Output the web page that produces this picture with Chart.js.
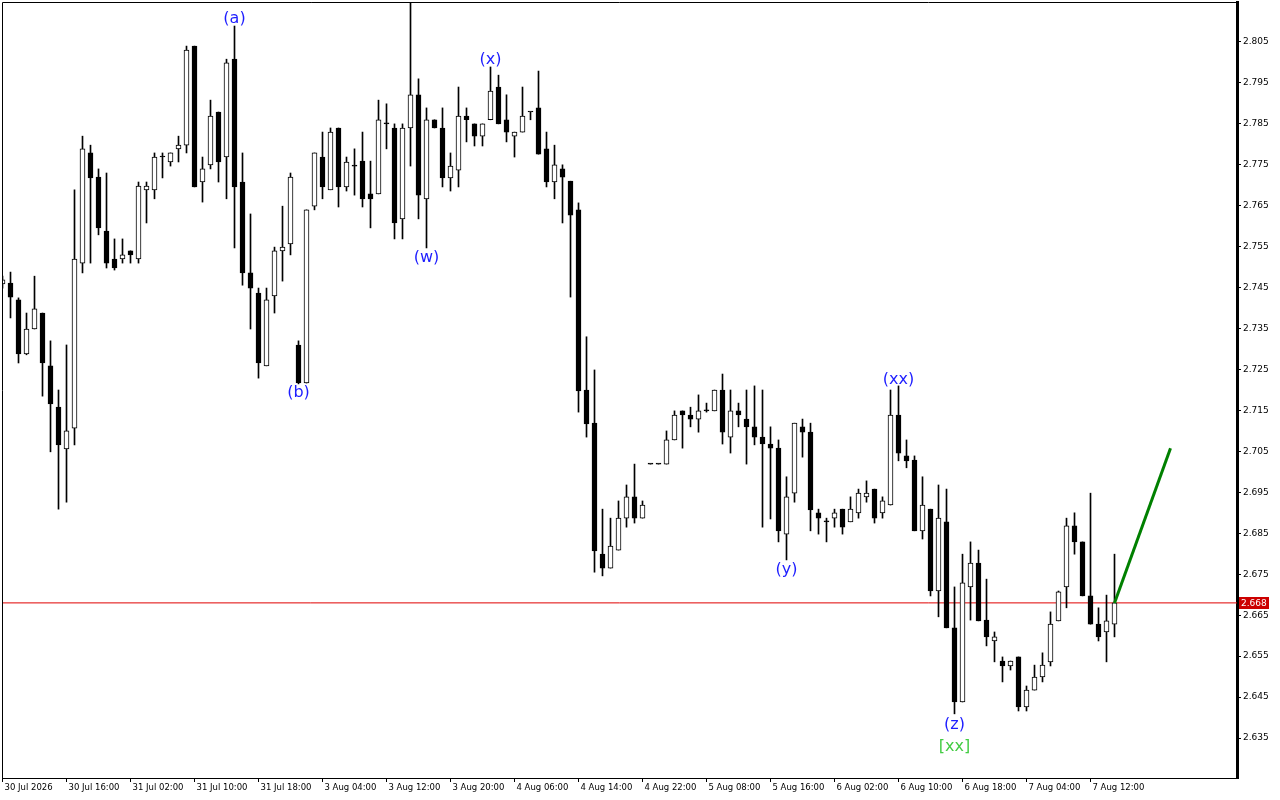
<!DOCTYPE html>
<html><head><meta charset="utf-8">
<script src="https://cdn.jsdelivr.net/npm/chart.js@4.4.1/dist/chart.umd.min.js"></script>
<style>html,body{margin:0;padding:0;background:#fff;}canvas{display:block;}</style>
</head><body>
<canvas id="c" width="1280" height="800" style="width:1280px;height:800px"></canvas>
<script>
// ---- data (hourly candles, index 0..139) ----
const timeTickIndex = [0,8,16,24,32,40,48,56,64,72,80,88,96,104,112,120,128,136];
const timeTickLabels = ["30 Jul 2026","30 Jul 16:00","31 Jul 02:00","31 Jul 10:00","31 Jul 18:00","3 Aug 04:00","3 Aug 12:00","3 Aug 20:00","4 Aug 06:00","4 Aug 14:00","4 Aug 22:00","5 Aug 08:00","5 Aug 16:00","6 Aug 02:00","6 Aug 10:00","6 Aug 18:00","7 Aug 04:00","7 Aug 12:00"];
const priceTicks = [2.635,2.645,2.655,2.665,2.675,2.685,2.695,2.705,2.715,2.725,2.735,2.745,2.755,2.765,2.775,2.785,2.795,2.805];

const open = [2.7459,2.7461,2.7420,2.7288,2.7349,2.7388,2.7259,2.7158,2.7056,2.7107,
2.7510,2.7779,2.7720,2.7588,2.7520,2.7520,2.7540,2.7520,2.7689,2.7689,
2.7769,2.7757,2.7789,2.7798,2.8040,2.7708,2.7750,2.7879,2.7769,2.8008,
2.7708,2.7486,2.7437,2.7259,2.7430,2.7540,2.7557,2.7310,2.7217,2.7649,
2.7769,2.7689,2.7840,2.7696,2.7747,2.7759,2.7679,2.7679,2.7850,2.7840,
2.7618,2.7840,2.7921,2.7667,2.7860,2.7840,2.7718,2.7737,2.7869,2.7850,
2.7820,2.7860,2.7940,2.7860,2.7820,2.7830,2.7879,2.7889,2.7789,2.7708,
2.7740,2.7710,2.7640,2.7200,2.7119,2.6799,2.6765,2.6809,2.6887,2.6939,
2.6887,2.7019,2.7019,2.7019,2.7078,2.7149,2.7139,2.7129,2.7149,2.7149,
2.7200,2.7085,2.7149,2.7129,2.7110,2.7085,2.7068,2.7058,2.6848,2.6948,
2.7110,2.7097,2.6900,2.6878,2.6887,2.6909,2.6878,2.6900,2.6939,2.6958,
2.6900,2.6919,2.7139,2.7039,2.7029,2.6856,2.6909,2.6709,2.6878,2.6619,
2.6438,2.6719,2.6777,2.6638,2.6587,2.6538,2.6526,2.6548,2.6426,2.6467,
2.6499,2.6536,2.6636,2.6719,2.6868,2.6829,2.6697,2.6628,2.6609,2.6628];

const high = [2.7478,2.7488,2.7425,2.7388,2.7478,2.7388,2.7320,2.7200,2.7310,2.7689,
2.7820,2.7798,2.7740,2.7730,2.7569,2.7569,2.7540,2.7708,2.7708,2.7779,
2.7779,2.7779,2.7820,2.8040,2.8040,2.7769,2.7908,2.7879,2.8008,2.8089,
2.7779,2.7630,2.7449,2.7449,2.7549,2.7649,2.7730,2.7320,2.7640,2.7779,
2.7830,2.7840,2.7840,2.7769,2.7789,2.7830,2.7759,2.7908,2.7899,2.7850,
2.7850,2.8150,2.7960,2.7889,2.7860,2.7889,2.7779,2.7940,2.7889,2.7850,
2.7850,2.7989,2.7969,2.7921,2.7830,2.7940,2.7879,2.7979,2.7830,2.7798,
2.7750,2.7710,2.7657,2.7330,2.7249,2.6909,2.6887,2.6929,2.6968,2.7019,
2.6929,2.7019,2.7019,2.7100,2.7149,2.7149,2.7158,2.7188,2.7168,2.7200,
2.7239,2.7200,2.7168,2.7200,2.7210,2.7200,2.7110,2.7078,2.6988,2.7119,
2.7129,2.7119,2.6909,2.6887,2.6909,2.6909,2.6939,2.6958,2.6978,2.6958,
2.6939,2.7200,2.7210,2.7078,2.7039,2.6988,2.6909,2.6968,2.6958,2.6719,
2.6799,2.6829,2.6809,2.6738,2.6609,2.6548,2.6538,2.6548,2.6477,2.6528,
2.6558,2.6658,2.6709,2.6887,2.6900,2.6829,2.6948,2.6668,2.6699,2.6799];

const low = [2.7449,2.7376,2.7266,2.7286,2.7349,2.7185,2.7049,2.6909,2.6926,2.7066,
2.7486,2.7510,2.7579,2.7498,2.7493,2.7510,2.7510,2.7510,2.7608,2.7667,
2.7718,2.7747,2.7757,2.7779,2.7696,2.7659,2.7740,2.7708,2.7667,2.7547,
2.7456,2.7349,2.7229,2.7259,2.7388,2.7466,2.7530,2.7215,2.7217,2.7640,
2.7667,2.7689,2.7647,2.7686,2.7676,2.7647,2.7596,2.7679,2.7789,2.7569,
2.7569,2.7747,2.7618,2.7547,2.7840,2.7696,2.7686,2.7696,2.7806,2.7796,
2.7796,2.7860,2.7850,2.7806,2.7769,2.7830,2.7860,2.7776,2.7696,2.7667,
2.7608,2.7427,2.7146,2.7085,2.6755,2.6746,2.6765,2.6809,2.6865,2.6875,
2.6887,2.7019,2.7019,2.7019,2.7078,2.7058,2.7110,2.7097,2.7146,2.7149,
2.7068,2.7046,2.7110,2.7019,2.7066,2.6865,2.6885,2.6829,2.6785,2.6926,
2.7036,2.6856,2.6848,2.6829,2.6865,2.6848,2.6878,2.6887,2.6926,2.6875,
2.6887,2.6919,2.7027,2.7010,2.6856,2.6836,2.6697,2.6646,2.6619,2.6409,
2.6438,2.6638,2.6636,2.6575,2.6536,2.6487,2.6516,2.6416,2.6416,2.6467,
2.6487,2.6526,2.6636,2.6668,2.6799,2.6697,2.6628,2.6587,2.6536,2.6597];

const close = [2.7469,2.7427,2.7288,2.7349,2.7398,2.7266,2.7166,2.7066,2.7100,2.7520,
2.7789,2.7718,2.7596,2.7510,2.7498,2.7530,2.7530,2.7698,2.7698,2.7769,
2.7769,2.7779,2.7798,2.8030,2.7696,2.7740,2.7869,2.7757,2.7999,2.7696,
2.7486,2.7449,2.7266,2.7420,2.7540,2.7549,2.7720,2.7217,2.7640,2.7779,
2.7696,2.7830,2.7696,2.7757,2.7747,2.7667,2.7667,2.7860,2.7850,2.7608,
2.7840,2.7921,2.7676,2.7860,2.7840,2.7718,2.7747,2.7869,2.7860,2.7820,
2.7850,2.7930,2.7850,2.7830,2.7830,2.7869,2.7879,2.7776,2.7708,2.7750,
2.7720,2.7627,2.7198,2.7117,2.6807,2.6765,2.6819,2.6887,2.6939,2.6887,
2.6919,2.7019,2.7019,2.7078,2.7139,2.7139,2.7129,2.7149,2.7149,2.7200,
2.7097,2.7149,2.7139,2.7110,2.7085,2.7068,2.7058,2.6856,2.6939,2.7119,
2.7097,2.6907,2.6887,2.6878,2.6900,2.6865,2.6909,2.6948,2.6948,2.6887,
2.6929,2.7139,2.7046,2.7027,2.6856,2.6919,2.6709,2.6887,2.6619,2.6438,
2.6729,2.6777,2.6636,2.6597,2.6597,2.6526,2.6538,2.6426,2.6467,2.6499,
2.6528,2.6628,2.6707,2.6868,2.6829,2.6697,2.6628,2.6597,2.6636,2.6680];

const lastPrice = 2.668;
const forecastIndex = [139, 146];
const forecastPrice = [2.668, 2.7058];

const waveText  = ["(a)","(b)","(w)","(x)","(xx)","(y)","(z)","[xx]"];
const waveIndex = [29, 37, 53, 61, 112, 98, 119, 119];
const wavePrice = [2.8107, 2.7194, 2.7523, 2.8007, 2.7225, 2.6761, 2.6383, 2.6329];
const waveColor = ["#1e1eff","#1e1eff","#1e1eff","#1e1eff","#1e1eff","#1e1eff","#1e1eff","#44cc44"];

// ---- build library structures ----
const idx = open.map((_, i) => i);
const bodyData = idx.map(i => ({x: i, y: [Math.min(open[i], close[i]), Math.max(open[i], close[i])]}));
const bodyFill = idx.map(i => close[i] > open[i] ? '#ffffff' : '#000000');
const wickData = idx.map(i => ({x: i, y: [low[i], high[i]]}));

const overlay = {
  id: 'overlay',
  afterDatasetsDraw(chart) {
    const {ctx, scales: {x, y}} = chart;
    ctx.save();
    ctx.font = '16px "DejaVu Sans"';
    ctx.textAlign = 'center';
    ctx.textBaseline = 'middle';
    waveText.forEach((t, i) => {
      ctx.fillStyle = waveColor[i];
      ctx.fillText(t, x.getPixelForValue(waveIndex[i]), y.getPixelForValue(wavePrice[i]));
    });
    ctx.restore();
  },
  afterDraw(chart) {
    const {ctx, chartArea: a, scales: {y}} = chart;
    ctx.save();
    ctx.strokeStyle = '#000';
    ctx.lineWidth = 1;
    ctx.beginPath();
    ctx.moveTo(a.left + 0.5, a.bottom);
    ctx.lineTo(a.left + 0.5, a.top + 0.5);
    ctx.lineTo(a.right, a.top + 0.5);
    ctx.stroke();
    const py = Math.round(y.getPixelForValue(lastPrice));
    ctx.fillStyle = '#cc0000';
    ctx.fillRect(a.right + 2, py - 6, 30, 12);
    ctx.fillStyle = '#ffffff';
    ctx.font = '9px "DejaVu Sans"';
    ctx.textAlign = 'left';
    ctx.textBaseline = 'middle';
    ctx.fillText(lastPrice.toFixed(3), a.right + 4, py + 0.5);
    ctx.restore();
  }
};

new Chart(document.getElementById('c'), {
  type: 'bar',
  data: {
    datasets: [
      { type: 'line', data: forecastIndex.map((v, i) => ({x: v, y: forecastPrice[i]})),
        borderColor: '#008000', borderWidth: 3, pointRadius: 0, order: -1 },
      { type: 'bar', data: bodyData, backgroundColor: bodyFill, borderColor: '#000', borderWidth: 1,
        borderSkipped: false, barThickness: 5, grouped: false, minBarLength: 1, order: 0 },
      { type: 'bar', data: wickData, backgroundColor: '#000', borderWidth: 0,
        barThickness: 1, grouped: false, order: 1 },
      { type: 'line', data: [{x: -1, y: lastPrice}, {x: 160, y: lastPrice}],
        borderColor: '#e00000', borderWidth: 1, pointRadius: 0, order: 2 }
    ]
  },
  options: {
    responsive: false, animation: false, devicePixelRatio: 1,
    layout: {padding: {left: 2, top: 2, right: 0, bottom: 0}},
    plugins: {legend: {display: false}, tooltip: {enabled: false}},
    scales: {
      x: {
        type: 'linear', position: 'bottom', min: -0.0625, max: 154.3125, offset: false,
        afterBuildTicks: s => { s.ticks = timeTickIndex.map(v => ({value: v})); },
        afterFit: s => { s.height = 22; s.paddingLeft = 0; s.paddingRight = 0; },
        ticks: {autoSkip: false, maxRotation: 0, minRotation: 0, align: 'start', labelOffset: 2, padding: 1,
          color: '#000', font: {family: 'DejaVu Sans', size: 8.5},
          callback: (v, i) => timeTickLabels[i]},
        grid: {offset: false, drawOnChartArea: false, drawTicks: true, tickLength: 4, color: '#000'},
        border: {display: true, color: '#000', width: 1}
      },
      y: {
        type: 'linear', position: 'right', min: 2.62523, max: 2.81477,
        afterBuildTicks: s => { s.ticks = priceTicks.map(v => ({value: v})); },
        afterFit: s => { s.width = 43; s.paddingTop = 0; s.paddingBottom = 0; },
        ticks: {autoSkip: false, crossAlign: 'near', padding: 2, color: '#000',
          font: {family: 'DejaVu Sans', size: 9}, callback: v => Number(v).toFixed(3)},
        grid: {drawOnChartArea: false, drawTicks: true, tickLength: 4, color: '#000'},
        border: {display: true, color: '#000', width: 3}
      }
    }
  },
  plugins: [overlay]
});
</script>
</body></html>
